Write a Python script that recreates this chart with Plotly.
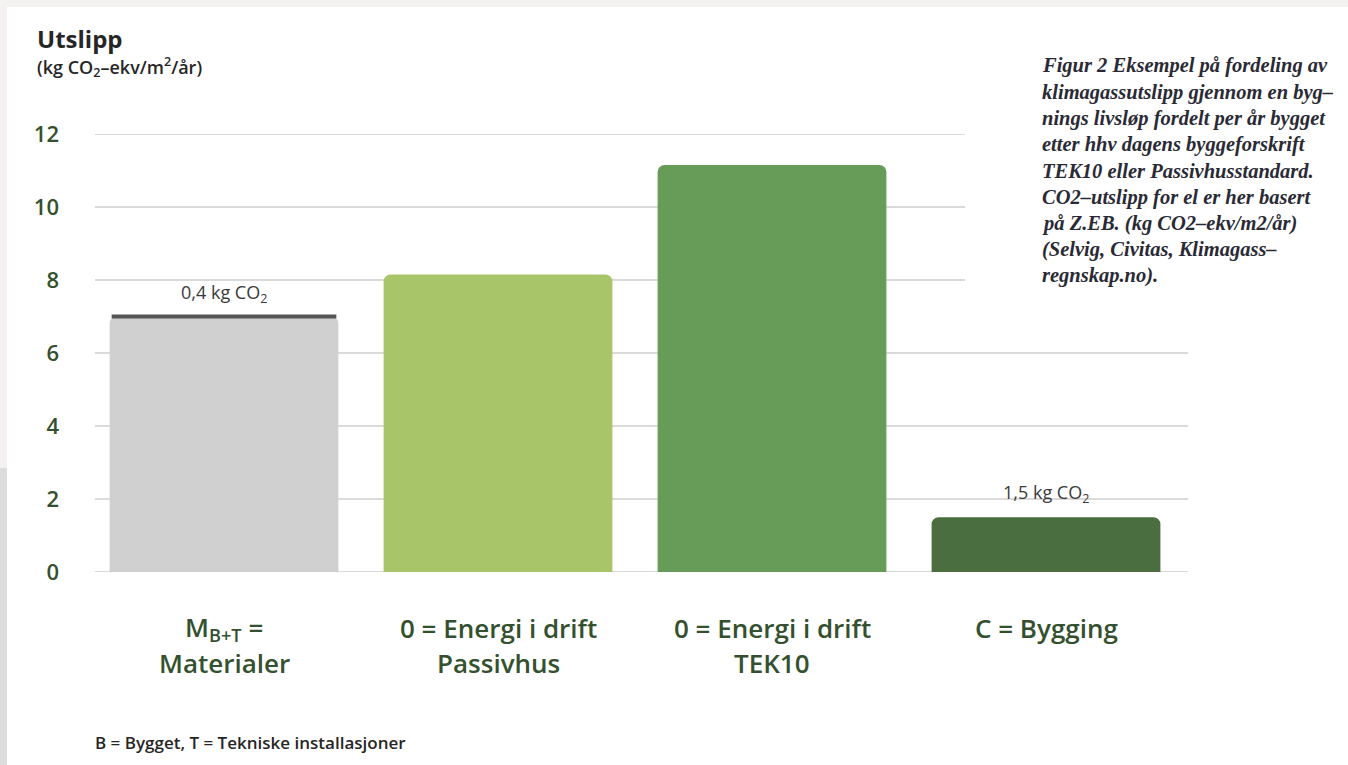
import plotly.graph_objects as go

# --- data -------------------------------------------------------------
categories_line1 = ["M<sub>B+T</sub> =", "0 = Energi i drift", "0 = Energi i drift", "C = Bygging"]
categories_line2 = ["Materialer", "Passivhus", "TEK10", ""]
emissions = [7.0, 8.15, 11.15, 1.5]
value_labels = {0: "0,4 kg CO<sub>2</sub>", 3: "1,5 kg CO<sub>2</sub>"}
y_ticks = [0, 2, 4, 6, 8, 10, 12]
short_grid_ticks = [8, 10, 12]   # gridlines that stop before the caption

bar_colors = ["#d0d0d0", "#a8c56a", "#679c58", "#4a6e3f"]
cap_color = "#555555"
text_color = "#34502f"
dark_text = "#262626"
grid_color = "#dadada"

caption_lines = [
    "Figur 2 Eksempel på fordeling av",
    "klimagassutslipp gjennom en byg–",
    "nings livsløp fordelt per år bygget",
    "etter hhv dagens byggeforskrift",
    "TEK10 eller Passivhusstandard.",
    "CO2–utslipp for el er her basert",
    "på Z.EB. (kg CO2–ekv/m2/år)",
    "(Selvig, Civitas, Klimagass–",
    "regnskap.no).",
]

SANS = "Open Sans"

# --- geometry helpers (pixels -> paper coordinates) -------------------
W, H = 1348, 765
L, R, T, B = 95, 1188, 134, 572


def px2x(px):
    return (px - L) / (R - L)


def py2y(py):
    return (B - py) / (B - T)


x_pos = list(range(len(emissions)))

fig = go.Figure()
fig.add_trace(go.Bar(
    x=x_pos,
    y=emissions,
    width=0.835,
    marker=dict(color=bar_colors, line=dict(width=0), cornerradius=7),
    hoverinfo="skip",
))

shapes = []
# gridlines
for t in y_ticks:
    x1 = px2x(965) if t in short_grid_ticks else 1
    shapes.append(dict(type="line", xref="paper", yref="y", x0=0, x1=x1, y0=t, y1=t,
                       line=dict(color=grid_color, width=2), layer="below"))

# dark cap on top of the materials bar
shapes.append(dict(type="line", xref="x", yref="y", x0=x_pos[0] - 0.41, x1=x_pos[0] + 0.41,
                   y0=emissions[0], y1=emissions[0], line=dict(color=cap_color, width=4),
                   layer="above"))

# page border strips
shapes.append(dict(type="rect", xref="paper", yref="paper", x0=px2x(0), x1=px2x(W),
                   y0=py2y(7), y1=py2y(0), fillcolor="#f3f2f0", line=dict(width=0), layer="below"))
shapes.append(dict(type="rect", xref="paper", yref="paper", x0=px2x(0), x1=px2x(7),
                   y0=py2y(468), y1=py2y(0), fillcolor="#f3f2f0", line=dict(width=0), layer="below"))
shapes.append(dict(type="rect", xref="paper", yref="paper", x0=px2x(0), x1=px2x(7),
                   y0=py2y(H), y1=py2y(468), fillcolor="#dcdcdc", line=dict(width=0), layer="below"))

annotations = []
label_font = dict(family=SANS, size=26, color=text_color, weight=600)
for i in x_pos:
    annotations.append(dict(x=i, y=py2y(628), xref="x", yref="paper", text=categories_line1[i],
                            showarrow=False, xanchor="center", yanchor="middle", font=label_font))
    if categories_line2[i]:
        annotations.append(dict(x=i, y=py2y(663), xref="x", yref="paper", text=categories_line2[i],
                                showarrow=False, xanchor="center", yanchor="middle", font=label_font))

for i, txt in value_labels.items():
    annotations.append(dict(x=i, y=emissions[i], xref="x", yref="y", text=txt, showarrow=False,
                            xanchor="center", yanchor="bottom", yshift=8,
                            font=dict(family=SANS, size=18, color="#3a3a3a", weight=500)))

# axis title
annotations.append(dict(x=px2x(35), y=py2y(38), xref="paper", yref="paper", text="Utslipp",
                        showarrow=False, xanchor="left", yanchor="middle",
                        font=dict(family=SANS, size=24, color=dark_text, weight=700)))
annotations.append(dict(x=px2x(35), y=py2y(67), xref="paper", yref="paper",
                        text="(kg CO<sub>2</sub>–ekv/m<sup>2</sup>/år)",
                        showarrow=False, xanchor="left", yanchor="middle",
                        font=dict(family=SANS, size=18, color=dark_text, weight=600)))

# caption
for k, line in enumerate(caption_lines):
    annotations.append(dict(x=px2x(1040), y=py2y(66 + 26.2 * k), xref="paper", yref="paper",
                            text=line, showarrow=False, xanchor="left", yanchor="middle",
                            font=dict(family="Liberation Serif", size=20.5, color="#2a2a35",
                                      style="italic", weight="bold")))

# footnote
annotations.append(dict(x=px2x(93), y=py2y(742), xref="paper", yref="paper",
                        text="B = Bygget, T = Tekniske installasjoner", showarrow=False,
                        xanchor="left", yanchor="middle",
                        font=dict(family=SANS, size=17, color=dark_text, weight=600)))

fig.update_layout(
    width=W, height=H,
    margin=dict(l=L, r=W - R, t=T, b=H - B, pad=0),
    paper_bgcolor="white", plot_bgcolor="white",
    showlegend=False,
    bargap=0.165,
    xaxis=dict(range=[(L - 224) / 274, (R - 224) / 274], showgrid=False, zeroline=False,
               showticklabels=False, showline=False, fixedrange=True),
    yaxis=dict(range=[0, 12], tickvals=y_ticks, showgrid=False, zeroline=False, showline=False,
               tickfont=dict(family=SANS, size=22, color=text_color, weight=600),
               ticklabelstandoff=35, fixedrange=True),
    shapes=shapes,
    annotations=annotations,
)

fig.write_html("out.html")
